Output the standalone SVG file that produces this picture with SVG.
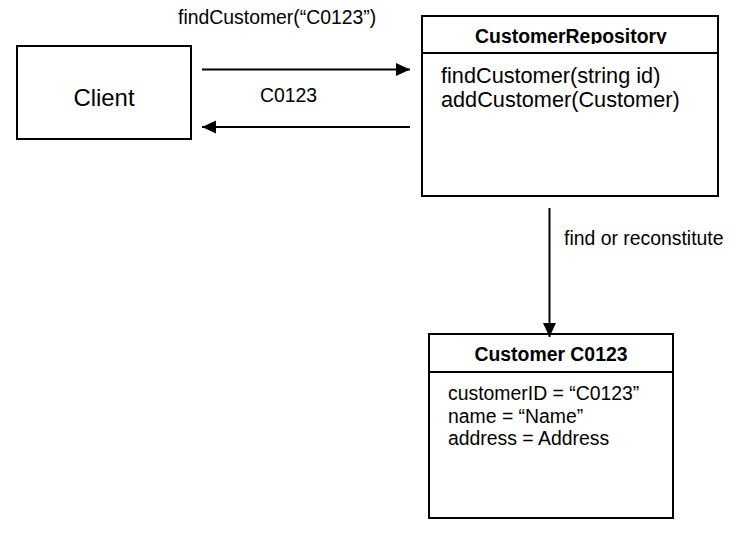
<svg xmlns="http://www.w3.org/2000/svg" width="736" height="539" viewBox="0 0 736 539">
<style>
.box{fill:#fff;stroke:#000;stroke-width:2}
.ln{stroke:#000;stroke-width:2;fill:none}
text{font-family:"Liberation Sans",Arial,sans-serif;fill:#000}
.lbl{font-size:19.4px}
.ttl{font-size:19.4px;font-weight:bold;text-anchor:middle}
</style>
<defs>
<marker id="ah" markerWidth="14" markerHeight="14" viewBox="0 0 14 14" refX="14" refY="7" orient="auto" markerUnits="userSpaceOnUse">
<path d="M0,0.5 L14,7 L0,13.5 Z" fill="#000"/>
</marker>
<clipPath id="cl"><rect x="422" y="16" width="296" height="28"/></clipPath>
</defs>
<rect width="736" height="539" fill="#fff"/>
<g id="client">
<rect class="box" x="17" y="46" width="174" height="93"/>
<text x="104" y="106" style="font-size:23.9px;text-anchor:middle">Client</text>
</g>
<g id="repository">
<rect class="box" x="422" y="16" width="296" height="180"/>
<line class="ln" x1="422" y1="53" x2="718" y2="53"/>
<text class="ttl" x="571" y="43" clip-path="url(#cl)">CustomerRepository</text>
<text x="441" y="83" style="font-size:21.7px">findCustomer(string id)</text>
<text x="441" y="106.5" style="font-size:21.7px">addCustomer(Customer)</text>
</g>
<g id="customer">
<rect class="box" x="429" y="334" width="244" height="184"/>
<line class="ln" x1="429" y1="372" x2="673" y2="372"/>
<text class="ttl" x="551" y="361">Customer C0123</text>
<text class="lbl" x="448" y="400">customerID = “C0123”</text>
<text class="lbl" x="448" y="422.5">name = “Name”</text>
<text class="lbl" x="448" y="445">address = Address</text>
</g>
<g id="connectors">
<line class="ln" x1="202" y1="69.5" x2="410" y2="69.5" marker-end="url(#ah)"/>
<line class="ln" x1="410" y1="127" x2="202" y2="127" marker-end="url(#ah)"/>
<line class="ln" x1="549.5" y1="208" x2="549.5" y2="337" marker-end="url(#ah)"/>
<text class="lbl" x="178" y="24">findCustomer(“C0123”)</text>
<text class="lbl" x="260" y="102">C0123</text>
<text class="lbl" x="564" y="245">find or reconstitute</text>
</g>
</svg>
